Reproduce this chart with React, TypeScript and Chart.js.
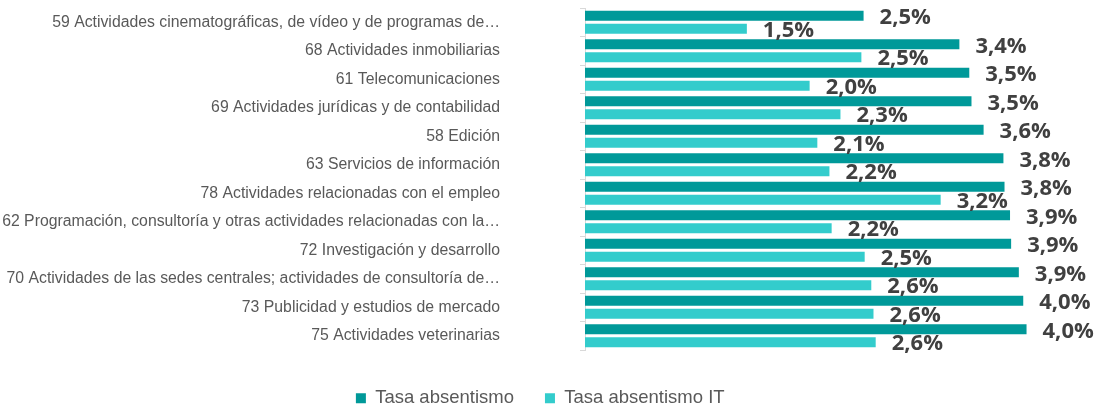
import { useEffect, useRef } from "react";
import { Chart, registerables } from "chart.js";

Chart.register(...registerables);

const categories = [
  "59 Actividades cinematográficas, de vídeo y de programas de…",
  "68 Actividades inmobiliarias",
  "61 Telecomunicaciones",
  "69 Actividades jurídicas y de contabilidad",
  "58 Edición",
  "63 Servicios de información",
  "78 Actividades relacionadas con el empleo",
  "62 Programación, consultoría y otras actividades relacionadas con la…",
  "72 Investigación y desarrollo",
  "70 Actividades de las sedes centrales; actividades de consultoría de…",
  "73 Publicidad y estudios de mercado",
  "75 Actividades veterinarias",
];

const tasaAbsentismo = [2.53, 3.4, 3.49, 3.51, 3.62, 3.8, 3.81, 3.86, 3.87, 3.94, 3.98, 4.01];
const tasaAbsentismoIT = [1.47, 2.51, 2.04, 2.32, 2.11, 2.22, 3.23, 2.24, 2.54, 2.6, 2.62, 2.64];

const seriesNames = ["Tasa absentismo", "Tasa absentismo IT"];
const seriesColors = ["#009999", "#33CCCC"];

const formatPct = (v: number) => v.toFixed(1).replace(".", ",") + "%";

const valueLabels = {
  id: "valueLabels",
  afterDatasetsDraw(chart: any) {
    const ctx = chart.ctx as CanvasRenderingContext2D;
    ctx.save();
    ctx.font = "bold 22px 'Open Sans', sans-serif";
    ctx.fillStyle = "#404040";
    ctx.textAlign = "left";
    ctx.textBaseline = "middle";
    chart.data.datasets.forEach((ds: any, di: number) => {
      const meta = chart.getDatasetMeta(di);
      meta.data.forEach((bar: any, i: number) => {
        const v = ds.data[i] as number;
        ctx.fillText(formatPct(v), bar.x + 16, bar.y + 2);
      });
    });
    ctx.restore();
  },
};

export default function App() {
  const canvasRef = useRef<HTMLCanvasElement | null>(null);

  useEffect(() => {
    if (!canvasRef.current) return;
    const chart = new Chart(canvasRef.current, {
      type: "bar",
      data: {
        labels: categories,
        datasets: [
          {
            label: seriesNames[0],
            data: tasaAbsentismo,
            backgroundColor: seriesColors[0],
            borderWidth: 0,
            categoryPercentage: 0.91,
            barPercentage: 0.77,
          },
          {
            label: seriesNames[1],
            data: tasaAbsentismoIT,
            backgroundColor: seriesColors[1],
            borderWidth: 0,
            categoryPercentage: 0.91,
            barPercentage: 0.77,
          },
        ],
      },
      options: {
        indexAxis: "y",
        responsive: false,
        animation: false,
        devicePixelRatio: 1,
        layout: { padding: { top: 8, right: 18.5, bottom: 0, left: 0 } },
        scales: {
          x: {
            min: 0,
            max: 4.5,
            display: true,
            grid: { display: false },
            border: { display: false },
            ticks: { display: false },
            afterFit: (s: any) => {
              s.height = 8;
              s.paddingLeft = 0;
              s.paddingRight = 0;
            },
          },
          y: {
            grid: {
              display: true,
              drawOnChartArea: false,
              drawTicks: true,
              tickLength: 5,
              offset: true,
              color: "#d9d9d9",
            },
            border: { display: true, color: "#d9d9d9", width: 1 },
            ticks: {
              color: "#595959",
              padding: 80,
              font: { size: 15.8, family: "'Liberation Sans', Arial, sans-serif" },
            },
            afterFit: (s: any) => {
              s.width = 585;
              s.paddingTop = 0;
              s.paddingBottom = 0;
            },
          },
        },
        plugins: {
          legend: {
            position: "bottom",
            maxHeight: 52,
            labels: {
              boxWidth: 10,
              boxHeight: 10,
              padding: 31,
              color: "#595959",
              font: { size: 18.5, family: "'Liberation Sans', Arial, sans-serif" },
            },
          },
          tooltip: { enabled: false },
        },
      },
      plugins: [valueLabels],
    });
    return () => chart.destroy();
  }, []);

  return (
    <div style={{ position: "absolute", left: 0, top: 0, width: 1099, height: 410 }}>
      <canvas ref={canvasRef} width={1099} height={410} />
    </div>
  );
}
